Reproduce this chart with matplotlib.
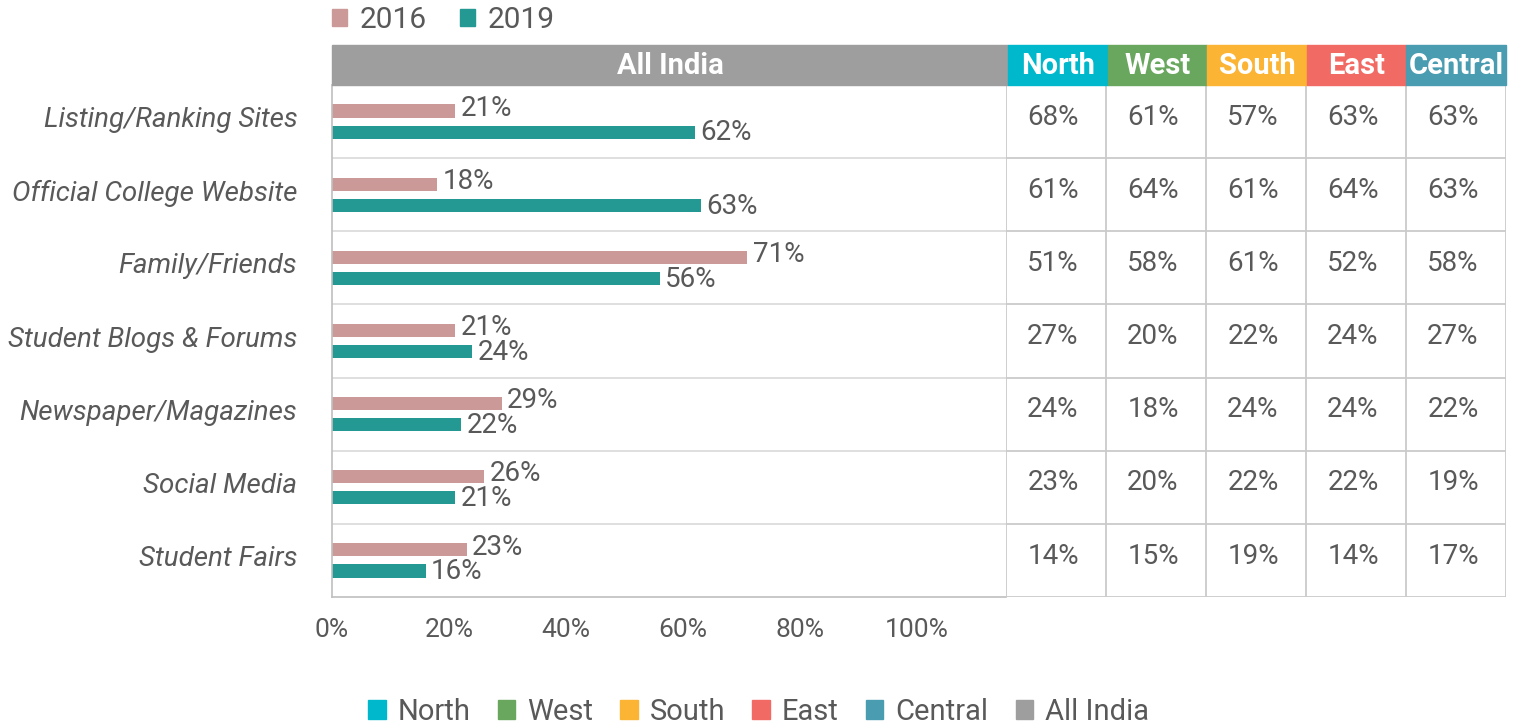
import matplotlib.pyplot as plt
from matplotlib.patches import Patch, Rectangle
import numpy as np

plt.rcParams['font.family'] = ['Roboto', 'DejaVu Sans']

# data
categories = ['Listing/Ranking Sites', 'Official College Website', 'Family/Friends',
              'Student Blogs & Forums', 'Newspaper/Magazines', 'Social Media', 'Student Fairs']
all_india_2016 = [21, 18, 71, 21, 29, 26, 23]
all_india_2019 = [62, 63, 56, 24, 22, 21, 16]
regions = ['North', 'West', 'South', 'East', 'Central']
north = [68, 61, 51, 27, 24, 23, 14]
west = [61, 64, 58, 20, 18, 20, 15]
south = [57, 61, 61, 22, 24, 22, 19]
east = [63, 64, 52, 24, 24, 22, 14]
central = [63, 63, 58, 27, 22, 19, 17]
x_ticks = [0, 20, 40, 60, 80, 100]

# colours
pink = '#CB9998'
teal = '#249893'
grey = '#9E9E9E'
region_colors = ['#00B8CC', '#69A75F', '#FBB433', '#F26A64', '#4A9CB0']
txt = '#595959'
line_c = '#CACACA'

W, H = 1517, 726


def box(l, t, r, b):
    # pixel box -> figure fraction [left, bottom, width, height]
    return [l / W, 1 - b / H, (r - l) / W, (b - t) / H]


fig = plt.figure(figsize=(W / 100, H / 100), dpi=100)

# bar chart (All India)
ax = fig.add_axes(box(332, 85, 1006, 597))
y = np.arange(len(categories)) + 0.5
off = 0.145
ax.barh(y - off, all_india_2016, height=0.18, color=pink)
ax.barh(y + off, all_india_2019, height=0.18, color=teal)
xmax = 115.2
ax.set_xlim(0, xmax)
ax.set_ylim(len(categories), 0)
ax.hlines(np.arange(1, len(categories)), 0, xmax, color='#DCDCDC', lw=1.3)

for yi, v in zip(y - off, all_india_2016):
    ax.annotate(f'{v}%', (v, yi), xytext=(4, 2.0), textcoords='offset points',
                va='center', ha='left', fontsize=20, color=txt)
for yi, v in zip(y + off, all_india_2019):
    ax.annotate(f'{v}%', (v, yi), xytext=(4, -0.5), textcoords='offset points',
                va='center', ha='left', fontsize=20, color=txt)

ax.set_yticks(y - 0.06)
ax.set_yticklabels(categories, style='italic', fontsize=20, color=txt)
ax.tick_params(axis='y', length=0, pad=25)
ax.set_xticks(x_ticks)
ax.set_xticklabels([f'{t}%' for t in x_ticks], fontsize=19, color=txt)
ax.tick_params(axis='x', length=0, pad=15)
for s in ['top', 'right']:
    ax.spines[s].set_visible(False)
for s in ['left', 'bottom']:
    ax.spines[s].set_color('#BFBFBF')
    ax.spines[s].set_linewidth(1.2)

# regional table
ax_t = fig.add_axes(box(1006, 85, 1506, 597))
ax_t.set_xlim(0, len(regions))
ax_t.set_ylim(len(categories), 0)
ax_t.axis('off')
ax_t.vlines(np.arange(len(regions) + 1), 0, len(categories), color=line_c, lw=1.3)
ax_t.hlines(np.arange(1, len(categories) + 1), 0, len(regions), color=line_c, lw=1.3)
for j, col in enumerate([north, west, south, east, central]):
    for i, v in enumerate(col):
        ax_t.text(j + 0.47, i + 0.44, f'{v}%', ha='center', va='center',
                  fontsize=20, color=txt)


# header band
def header(l, r, color, label):
    fig.patches.append(Rectangle((l / W, 1 - 85 / H), (r - l) / W, 40 / H,
                                 transform=fig.transFigure, color=color, zorder=0))
    fig.text((l + r) / 2 / W, 1 - 66 / H, label, ha='center', va='center',
             fontsize=21, color='white', fontweight='bold')


header(332, 1008, grey, 'All India')
edges = np.linspace(1008, 1506, len(regions) + 1)
for k, name in enumerate(regions):
    header(edges[k], edges[k + 1], region_colors[k], name)

# top legend
fig.legend(handles=[Patch(color=pink, label='2016'), Patch(color=teal, label='2019')],
           loc='center left', bbox_to_anchor=(332 / W, 1 - 20 / H), ncol=2,
           frameon=False, fontsize=21.5, handlelength=0.5, handleheight=0.5,
           handletextpad=0.43, columnspacing=1.1, borderpad=0, borderaxespad=0,
           labelcolor=txt)

# bottom legend
fig.legend(handles=[Patch(color=c, label=n) for c, n in
                    zip(region_colors + [grey], regions + ['All India'])],
           loc='center', bbox_to_anchor=(0.5, 1 - 712 / H), ncol=6,
           frameon=False, fontsize=21, handlelength=0.6, handleheight=0.6,
           handletextpad=0.4, columnspacing=0.94, borderpad=0, borderaxespad=0,
           labelcolor=txt)

fig.savefig('out.png', dpi=100)
